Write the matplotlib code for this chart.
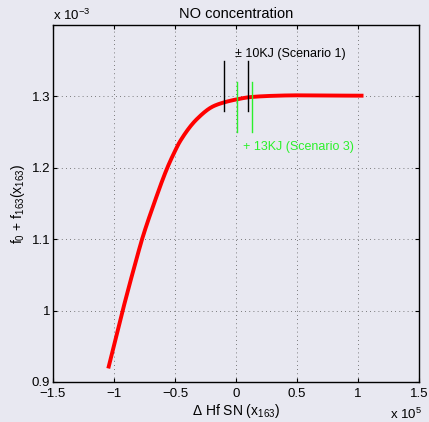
import matplotlib
matplotlib.use("Agg")
import matplotlib.pyplot as plt
import numpy as np

plt.rcParams['font.family'] = ['Liberation Sans', 'DejaVu Sans']
plt.rcParams['mathtext.fontset'] = 'custom'
plt.rcParams['mathtext.rm'] = 'Liberation Sans'
plt.rcParams['mathtext.it'] = 'Liberation Sans'

# NO concentration curve (x in units of 1e5, y in units of 1e-3)
dh = [-1.047, -0.929, -0.80, -0.77, -0.678, -0.563, -0.5, -0.459, -0.322, -0.186, -0.09, 0.005, 0.115, 0.3, 0.5, 0.75, 1.045]
conc = [0.919, 1.0, 1.082, 1.1, 1.147, 1.2, 1.2235, 1.237, 1.268, 1.2862, 1.292, 1.2958, 1.299, 1.3008, 1.3015, 1.3012, 1.301]

# scenario markers
sc1_x = [-0.1, 0.1]
sc1_y = [1.280, 1.349]
sc3_x = [0.01, 0.13]
sc3_y = [1.2495, 1.3197]


def pchip(x, y, xn):
    # monotone cubic through the read points
    x = np.asarray(x); y = np.asarray(y)
    h = np.diff(x); d = np.diff(y) / h
    m = np.zeros_like(y)
    for i in range(1, len(y) - 1):
        if d[i - 1] * d[i] > 0:
            w1 = 2 * h[i] + h[i - 1]; w2 = h[i] + 2 * h[i - 1]
            m[i] = (w1 + w2) / (w1 / d[i - 1] + w2 / d[i])
    m[0] = d[0]; m[-1] = d[-1]
    idx = np.clip(np.searchsorted(x, xn) - 1, 0, len(h) - 1)
    t = (xn - x[idx]) / h[idx]
    h00 = 2*t**3 - 3*t**2 + 1; h10 = t**3 - 2*t**2 + t
    h01 = -2*t**3 + 3*t**2; h11 = t**3 - t**2
    return h00*y[idx] + h10*h[idx]*m[idx] + h01*y[idx+1] + h11*h[idx]*m[idx+1]


bg = '#e8e8f1'
fig = plt.figure(figsize=(4.29, 4.22), dpi=100, facecolor=bg)
ax = fig.add_axes([53/429, 1-382/422, 366/429, 357/422], facecolor=bg)

xs = np.linspace(dh[0], dh[-1], 400)
ax.plot(xs, pchip(dh, conc, xs), color='red', lw=2.8, solid_capstyle='butt', zorder=3)

for x in sc1_x:
    ax.plot([x, x], sc1_y, color='black', lw=1.0, zorder=4)
for x in sc3_x:
    ax.plot([x, x], sc3_y, color='#2bf02b', lw=1.0, zorder=4)

ax.text(-0.01, 1.359, '± 10KJ (Scenario 1)', fontsize=9, color='black', va='center')
ax.text(0.06, 1.2298, '+ 13KJ (Scenario 3)', fontsize=9, color='#2bf02b', va='center')

ax.set_xlim(-1.5, 1.5)
ax.set_ylim(0.9, 1.4)
ax.set_xticks([-1.5, -1, -0.5, 0, 0.5, 1, 1.5])
ax.set_xticklabels(['\u22121.5', '\u22121', '\u22120.5', '0', '0.5', '1', '1.5'])
ax.set_yticks([0.9, 1.0, 1.1, 1.2, 1.3])
ax.set_yticklabels(['0.9', '1', '1.1', '1.2', '1.3'])
ax.tick_params(direction='in', top=True, right=True, labelsize=9.5, length=3)
ax.tick_params(axis='x', pad=4)
ax.tick_params(axis='y', pad=2)
ax.grid(True, linestyle=(0, (1, 4)), color='#555555', lw=0.6)
for s in ax.spines.values():
    s.set_linewidth(1.0)

ax.set_title('NO concentration', fontsize=10.5, pad=5)
ax.set_xlabel(r'$\Delta$ Hf SN (x$_{163}$)', fontsize=10, labelpad=2)
ax.set_ylabel(r'f$_0$ + f$_{163}$(x$_{163}$)', fontsize=10, labelpad=3)
fig.text(53/429, 1-20/422, r'x 10$^{-3}$', fontsize=9.5, ha='left', va='baseline')
fig.text(390/429, 1-419/422, r'x 10$^{5}$', fontsize=9.5, ha='left', va='baseline')

fig.savefig('out.png', dpi=100, facecolor=bg)
